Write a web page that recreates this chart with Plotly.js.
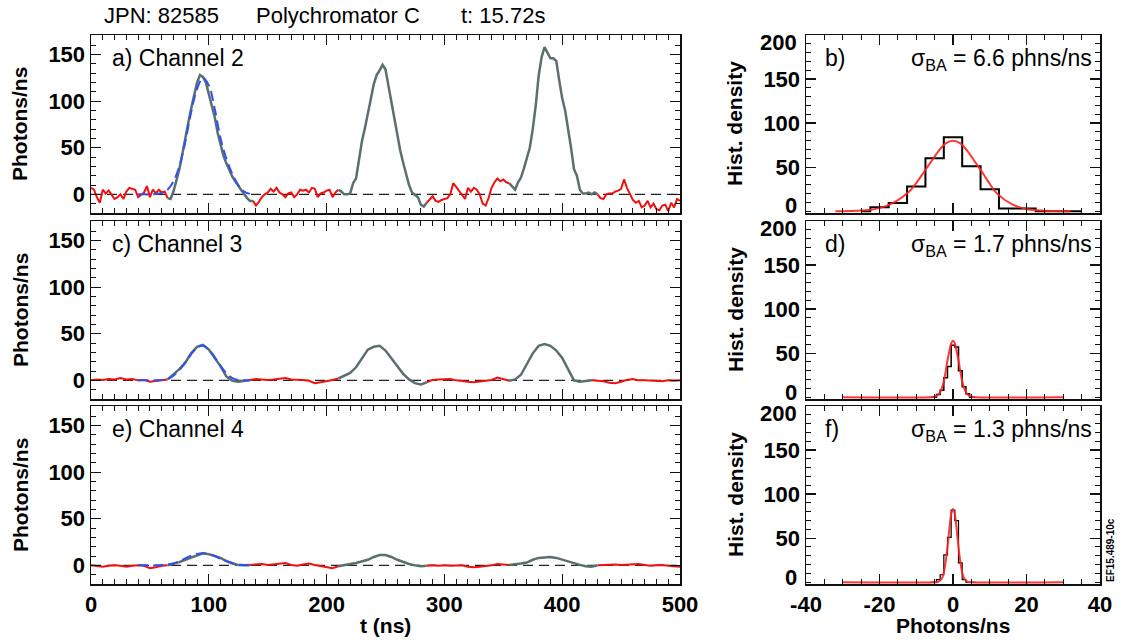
<!DOCTYPE html>
<html><head><meta charset="utf-8">
<script src="https://cdn.plot.ly/plotly-3.0.1.min.js"></script>
<style>html,body{margin:0;padding:0;background:#fff}#chart{width:1121px;height:640px}</style>
</head><body><div id="chart"></div>
<script>
// ---------------- DATA ----------------
// Channel 2 (panel a): photons/ns sampled every 2.5 ns, 0..500 ns
const ch2Step = 2.5;
const ch2Signal = [
 7,5,-3,-9,5,1,4,-1,-5,-3,0,-5,3,7,6,5,-3,0,2,9,-3,5,1,5,2,3,
 -4,-5,3,14,27,43,61,76,92,108,120,128,126,120,107,96,83,66,53,41,33,25,19,14,9,4,0,-4,-7,-7,
 -12,-8,-3,0,2,6,3,7,2,0,-3,1,2,-3,0,5,4,5,2,7,6,-3,1,2,4,5,-3,2,
 5,3,0,0,1,12,17,38,57,71,85,102,118,128,133,139,134,116,98,82,63,47,34,22,10,2,-1,-3,-11,-13,-9,
 -5,-2,-7,-8,-6,-5,-4,0,12,8,4,0,-5,7,3,7,5,0,-10,-12,-4,7,13,17,14,16,13,
 12,9,5,13,18,28,38,50,70,95,127,147,158,152,146,146,143,122,103,90,72,50,27,20,5,1,1,2,0,2,0,
 -4,-5,0,1,1,3,4,6,16,7,1,-6,-9,-7,-14,-12,-7,-14,-10,-16,-17,-12,-11,-18,-9,-14,-5,-7
];
const ch2PulseStart = [65, 210, 355];
const ch2PulseEnd = [137.5, 285, 430];
const ch2FitT = [40,45,50,55,60,65,70,75,80,85,90,95,100,105,110,115,120,125,130,135];
const ch2Fit  = [0,0,0,0.3,1.5,5,14,30,56,88,113,125,117,92,60,38,22,10,3,0.5];

// Channel 3 (panel c): sampled every 5 ns
const ch3Step = 5;
const ch3Signal = [
 0,1,0.5,1.5,1,2.5,1,1.5,0,0.5,-1.5,-1,0,
 1,6,12,19,29,36,38,33,24,15,4,-0.5,-1.5,-0.5,0.5,
 1.5,1,0.5,1,1.5,2.5,1,1,0.5,-0.5,-3,-2,-1,0.5,
 2,5,8,14,24,33,36,37,32,24,16,7,1,-3,-4.5,-2,
 0.5,1,1,1.5,0,-1,-1.5,-2,-1,0,0.5,3,1,
 -0.5,1,6,18,29,37,39,37,32,24,12,0,-1.5,-1,0,
 -0.5,-1,-2.5,-3,-1.5,0.5,1.5,0,0,-0.5,-1,-1,0,-0.5,0
];
const ch3PulseStart = [65, 210, 355];
const ch3PulseEnd = [135, 285, 425];
const ch3FitT = [40,45,50,55,60,65,70,75,80,85,90,95,100,105,110,115,120,125,130,135];
const ch3Fit  = [0,0,0,0,0.5,1.5,5,11,19,28,35,37.5,33,25,15.5,7.5,2.5,0.5,0,0];

// Channel 4 (panel e): sampled every 5 ns
const ch4Step = 5;
const ch4Signal = [
 0,-0.5,-1.5,-0.5,0,-0.5,-1.5,-0.5,0,-0.5,-3,-2,-0.5,
 0,1.5,3.5,6,8.5,10.5,13,12,10,8,4.5,2,0.5,0,0.5,
 1,1.5,0.5,1,2,2.5,0.5,-0.5,1,2,0.5,-0.5,-1.5,-3,
 -1,0.5,1.5,2.5,4,6,9,11,11,9,6,3.5,1.5,0,-1,-0.5,
 0,-0.5,0,-0.5,-0.5,0,-1.5,-2,-1.5,-1,0,1.5,1,
 0.5,1,2,3,6,8,8.5,9,8,6,4.5,2,0.5,-1,-1.5,0,
 0.5,0.5,1,0.5,1,1.5,1.5,0.5,-0.5,0,0.5,-0.5,-1,-1.5
];
const ch4PulseStart = [65, 210, 355];
const ch4PulseEnd = [135, 285, 430];
const ch4FitT = [40,45,50,55,60,65,70,75,80,85,90,95,100,105,110,115,120,125,130,135];
const ch4Fit  = [0,0,0,0,0.3,1,2,4.5,7.5,10.5,12.3,13,12,10,7,4.5,2.5,1,0.3,0];

// Background histograms (bin centres, densities) and Gaussian fits
const histBCenters = [-25,-20,-15,-10,-5,0,5,10,15,20,25,30,35];
const histBCounts  = [0,4.5,9.3,28,60,84,51,25,3,3,0,0,0];
const fitBX = [-32,-28,-24,-20,-16,-12,-10,-8,-6,-4,-2,0,2,4,6,8,10,12,16,20,24,28,32];
const fitBY = [0,0.3,1,3.5,10,22,32,44,56,68,77,80,77,68,56,44,31,20,8,2.5,0.8,0.2,0];

const histDCenters = [-6,-5,-4,-3,-2,-1,0,1,2,3,4,5,6];
const histDCounts  = [0,0,3,8,22,35,59,57,30,12,4,0,0];
const fitDX = [-30,-6,-5,-4,-3.5,-3,-2.5,-2,-1.5,-1,-0.5,0,0.5,1,1.5,2,2.5,3,3.5,4,5,6,30];
const fitDY = [0,0,0.5,3,6,11,18,29,42,52,61,64,61,52,42,29,18,11,6,3,0.5,0,0];

const histFCenters = [-6,-5,-4,-3,-2,-1,0,1,2,3,4,5,6];
const histFCounts  = [0,0,3,8.5,31,51,82,70,22,3,0,0,0];
const fitFX = [-30,-5,-4,-3,-2.5,-2,-1.5,-1,-0.5,0,0.5,1,1.5,2,2.5,3,4,5,30];
const fitFY = [0,0,0.5,4.5,11,23,40,60,77,83,77,60,40,23,11,4.5,0.5,0,0];

const channelLabels = ['a) Channel 2', 'c) Channel 3', 'e) Channel 4'];
const histLabels = ['b)', 'd)', 'f)'];
const sigmaValues = ['6.6', '1.7', '1.3'];
const titleParts = ['JPN: 82585', 'Polychromator C', 't: 15.72s'];
const histXTicks = [-40, -20, 0, 20, 40];
const histXTickText = ['-40', '-20', '0', '20', '40'];
const histYEndLabels = ['0', '200'];

// ---------------- BUILD ----------------
function splitSeries(step, vals, starts, ends) {
  const gx=[], gy=[], rx=[], ry=[];
  vals.forEach((v, i) => {
    const t = i * step;
    let inWin = false, strict = false;
    for (let k = 0; k < starts.length; k++) {
      if (t >= starts[k] - 1e-9 && t <= ends[k] + 1e-9) inWin = true;
      if (t > starts[k] + 1e-9 && t < ends[k] - 1e-9) strict = true;
    }
    if (inWin) { gx.push(t); gy.push(v); }
    else if (gx.length && gx[gx.length-1] !== null) { gx.push(null); gy.push(null); }
    if (!strict) { rx.push(t); ry.push(v); }
    else if (rx.length && rx[rx.length-1] !== null) { rx.push(null); ry.push(null); }
  });
  return {gx, gy, rx, ry};
}

const RED = '#f01010', GRAY = '#5b6f6f', BLUE = '#3050f0';
const FONT = 'Liberation Sans, Arial, sans-serif';
const traces = [];
const chans = [
  [ch2Step, ch2Signal, ch2PulseStart, ch2PulseEnd, ch2FitT, ch2Fit],
  [ch3Step, ch3Signal, ch3PulseStart, ch3PulseEnd, ch3FitT, ch3Fit],
  [ch4Step, ch4Signal, ch4PulseStart, ch4PulseEnd, ch4FitT, ch4Fit]
];
const leftAx = [['x','y'],['x3','y3'],['x5','y5']];
const rightAx = [['x2','y2'],['x4','y4'],['x6','y6']];
chans.forEach((c, i) => {
  const s = splitSeries(c[0], c[1], c[2], c[3]);
  const [xa, ya] = leftAx[i];
  traces.push({x: s.rx, y: s.ry, xaxis: xa, yaxis: ya, mode: 'lines', line: {color: RED, width: 2}, connectgaps: false});
  traces.push({x: s.gx, y: s.gy, xaxis: xa, yaxis: ya, mode: 'lines', line: {color: GRAY, width: 2.5}, connectgaps: false});
  traces.push({x: c[4], y: c[5], xaxis: xa, yaxis: ya, mode: 'lines', line: {color: BLUE, width: 2, dash: '10px,5px', shape: 'spline'}});
});
const hists = [
  [histBCenters, histBCounts, fitBX, fitBY, 2],
  [histDCenters, histDCounts, fitDX, fitDY, 1.5],
  [histFCenters, histFCounts, fitFX, fitFY, 1.2]
];
hists.forEach((h, i) => {
  const [xa, ya] = rightAx[i];
  traces.push({x: h[0], y: h[1], xaxis: xa, yaxis: ya, mode: 'lines', line: {color: '#000', width: h[4], shape: 'hvh'}});
  traces.push({x: h[2], y: h[3], xaxis: xa, yaxis: ya, mode: 'lines', line: {color: '#ff2020', width: 2, shape: 'spline', smoothing: 0.8}, opacity: 0.9});
});

const W = 1121, H = 640;
const leftDom = [91/W, 680/W], rightDom = [806/W, 1100/W];
const rows = [[35,213],[221,399],[406,584]];
const yDom = rows.map(r => [1 - r[1]/H, 1 - r[0]/H]);

function axBase() {
  return {
    showline: true, mirror: 'ticks', linecolor: '#111', linewidth: 1.5,
    ticks: 'inside', ticklen: 10, tickwidth: 1.3, tickcolor: '#111',
    showgrid: false, zeroline: false, fixedrange: true,
    tickfont: {family: FONT, size: 22, color: '#000', weight: 'bold'}
  };
}
const layout = {
  width: W, height: H, margin: {l: 0, r: 0, t: 0, b: 0},
  paper_bgcolor: '#fff', plot_bgcolor: '#fff', showlegend: false,
  shapes: [], annotations: []
};
['', '3', '5'].forEach((n, i) => {
  const xk = 'xaxis' + n, yk = 'yaxis' + n;
  layout[xk] = Object.assign(axBase(), {domain: leftDom, anchor: 'y' + n, range: [0, 500], dtick: 100,
    showticklabels: i === 2, minor: {ticks: 'inside', ticklen: 5, dtick: 10, tickcolor: '#111', tickwidth: 1}});
  layout[yk] = Object.assign(axBase(), {domain: yDom[i], anchor: 'x' + n, range: [-20, 171], tickvals: [0, 50, 100, 150],
    minor: {ticks: 'inside', ticklen: 5, dtick: 10, tickcolor: '#111', tickwidth: 1}});
  layout.shapes.push({type: 'line', xref: 'x' + n + ' domain', yref: 'y' + n, x0: 0, x1: 1, y0: 0, y1: 0,
    layer: 'below', line: {color: '#222', width: 1.3, dash: '10px,6px'}});
  layout.annotations.push({xref: 'x' + n + ' domain', yref: 'y' + n + ' domain', x: 0.033, y: 0.871,
    xanchor: 'left', yanchor: 'middle', showarrow: false, text: channelLabels[i],
    font: {family: FONT, size: 23, color: '#000'}});
  layout.annotations.push({xref: 'paper', yref: 'paper', x: 20/W, y: (yDom[i][0] + yDom[i][1]) / 2,
    xanchor: 'center', yanchor: 'middle', textangle: -90, showarrow: false, text: 'Photons/ns',
    font: {family: FONT, size: 21, color: '#000', weight: 'bold'}});
});
['2', '4', '6'].forEach((n, i) => {
  const xk = 'xaxis' + n, yk = 'yaxis' + n;
  layout[xk] = Object.assign(axBase(), {domain: rightDom, anchor: 'y' + n, range: [-40, 40],
    tickvals: histXTicks, ticktext: histXTickText,
    showticklabels: i === 2, minor: {ticks: 'inside', ticklen: 5, dtick: 5, tickcolor: '#111', tickwidth: 1}});
  layout[yk] = Object.assign(axBase(), {domain: yDom[i], anchor: 'x' + n, range: [-2, 200], tickvals: [50, 100, 150],
    minor: {ticks: 'inside', ticklen: 5, dtick: 10, tickcolor: '#111', tickwidth: 1}});
  // end labels of the histogram y axes sit slightly inside the frame, as in the original
  layout.annotations.push({xref: 'paper', yref: 'y' + n + ' domain', x: 799/W, y: 0, yshift: 7,
    xanchor: 'right', yanchor: 'middle', showarrow: false, text: histYEndLabels[0],
    font: {family: FONT, size: 22, color: '#000', weight: 'bold'}});
  layout.annotations.push({xref: 'paper', yref: 'y' + n + ' domain', x: 799/W, y: 1, yshift: -7,
    xanchor: 'right', yanchor: 'middle', showarrow: false, text: histYEndLabels[1],
    font: {family: FONT, size: 22, color: '#000', weight: 'bold'}});
  layout.annotations.push({xref: 'x' + n + ' domain', yref: 'y' + n + ' domain', x: 0.058, y: 0.871,
    xanchor: 'left', yanchor: 'middle', showarrow: false, text: histLabels[i],
    font: {family: FONT, size: 23, color: '#000'}});
  layout.annotations.push({xref: 'x' + n + ' domain', yref: 'y' + n + ' domain', x: 0.98, y: 0.86,
    xanchor: 'right', yanchor: 'middle', showarrow: false,
    text: 'σ<sub>BA</sub> = ' + sigmaValues[i] + ' phns/ns',
    font: {family: FONT, size: 23, color: '#000'}});
  layout.annotations.push({xref: 'paper', yref: 'paper', x: 735/W, y: (yDom[i][0] + yDom[i][1]) / 2,
    xanchor: 'center', yanchor: 'middle', textangle: -90, showarrow: false, text: 'Hist. density',
    font: {family: FONT, size: 21, color: '#000', weight: 'bold'}});
});
// title parts
const titleX = [102, 254, 459];
titleParts.forEach((t, i) => layout.annotations.push({xref: 'paper', yref: 'paper', x: titleX[i]/W, y: 1 - 15/H,
  xanchor: 'left', yanchor: 'middle', showarrow: false, text: t, font: {family: FONT, size: 22, color: '#000'}}));
layout.annotations.push({xref: 'paper', yref: 'paper', x: 385/W, y: 1 - 625/H, xanchor: 'center', yanchor: 'middle',
  showarrow: false, text: 't (ns)', font: {family: FONT, size: 21, color: '#000', weight: 'bold'}});
layout.annotations.push({xref: 'paper', yref: 'paper', x: 953/W, y: 1 - 625/H, xanchor: 'center', yanchor: 'middle',
  showarrow: false, text: 'Photons/ns', font: {family: FONT, size: 21, color: '#000', weight: 'bold'}});
layout.annotations.push({xref: 'paper', yref: 'paper', x: 1110/W, y: 1 - 550/H, xanchor: 'center', yanchor: 'middle',
  textangle: -90, showarrow: false, text: 'EF15.489-10c', font: {family: FONT, size: 10, color: '#000', weight: 'bold'}});

Plotly.newPlot('chart', traces, layout, {staticPlot: true, displayModeBar: false});
</script></body></html>
